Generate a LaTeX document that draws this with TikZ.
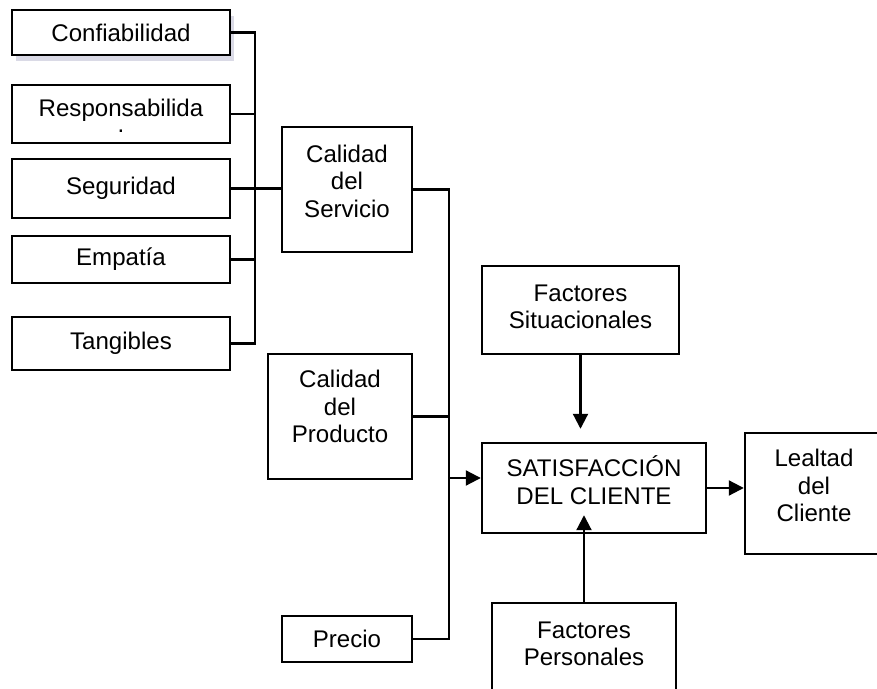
\documentclass[tikz,border=0pt]{standalone}
\usepackage{fontspec}
\setmainfont{Liberation Sans}
\usetikzlibrary{arrows.meta,shadows}
\tikzset{
	caja/.style={draw, fill=white, line width=1.4pt, align=center, inner sep=0pt},
	linea/.style={line width=1.2pt},
	flecha/.style={line width=1.2pt, -{Triangle[length=0.3cm, width=0.3cm]}}
}
\begin{document}
\begin{tikzpicture}[x=0.02cm, y=-0.02cm, font=\fontsize{13.7}{15.6}\selectfont]
	\useasboundingbox (0,0) rectangle (877,689);
	%dimensiones
	\node[caja, minimum width=4.36cm, minimum height=0.9cm,
		drop shadow={shadow xshift=0.08cm, shadow yshift=-0.12cm, fill=blue!20!gray!40, opacity=0.6}]
		(conf) at (121,32.5) {Confiabilidad};
	\node[caja, minimum width=4.36cm, minimum height=1.16cm, text height=21.6pt] (resp) at (121,114) {Responsabilida\\[-6.5pt].};
	\node[caja, minimum width=4.36cm, minimum height=1.18cm] (seg) at (121,188.5) {Seguridad};
	\node[caja, minimum width=4.36cm, minimum height=0.94cm] (emp) at (121,259.5) {Empatía};
	\node[caja, minimum width=4.36cm, minimum height=1.06cm] (tang) at (121,343.5) {Tangibles};
	%calidad y precio
	\node[caja, minimum width=2.6cm, minimum height=2.5cm, text depth=0.34cm] (serv) at (347,189.5) {Calidad\\del\\Servicio};
	\node[caja, minimum width=2.88cm, minimum height=2.5cm, text depth=0.4cm] (prod) at (340,416.5) {Calidad\\del\\Producto};
	\node[caja, minimum width=2.6cm, minimum height=0.92cm] (prec) at (347,639) {Precio};
	%satisfaccion
	\node[caja, minimum width=3.94cm, minimum height=1.76cm, text depth=0.14cm] (sit) at (580.5,310) {Factores\\Situacionales};
	\node[caja, minimum width=4.48cm, minimum height=1.8cm, text depth=0.31cm] (sat) at (594,488) {SATISFACCIÓN\\DEL CLIENTE};
	\node[caja, minimum width=3.68cm, minimum height=1.76cm, text depth=0.12cm] (pers) at (584,647) {Factores\\Personales};
	\node[caja, minimum width=2.76cm, minimum height=2.42cm, text depth=0.32cm] (leal) at (814,493.5) {Lealtad\\del\\Cliente};
	%conectores izquierda
	\coordinate (b1) at (255,0);
	\draw[linea] (conf.east) -| (b1 |- tang.east) -- (tang.east);
	\foreach \n in {resp,emp}
	\draw[linea] (\n.east) -- (\n.east -| b1);
	\draw[linea] (seg.east) -- (seg.east -| serv.west);
	%conectores derecha
	\coordinate (b2) at (449,0);
	\draw[linea] (serv.east) -| (b2 |- prec.east) -- (prec.east);
	\draw[linea] (prod.east) -- (prod.east -| b2);
	\coordinate (ent) at (449,478);
	\draw[flecha] (ent) -- (ent -| sat.west);
	%flechas
	\draw[flecha] (sit.south) -- ([yshift=0.26cm]sit.south |- sat.north);
	\draw[flecha] (pers.north) -- ([yshift=0.38cm]pers.north |- sat.south);
	\draw[flecha] (sat.east) -- (sat.east -| leal.west);
\end{tikzpicture}
\end{document}
